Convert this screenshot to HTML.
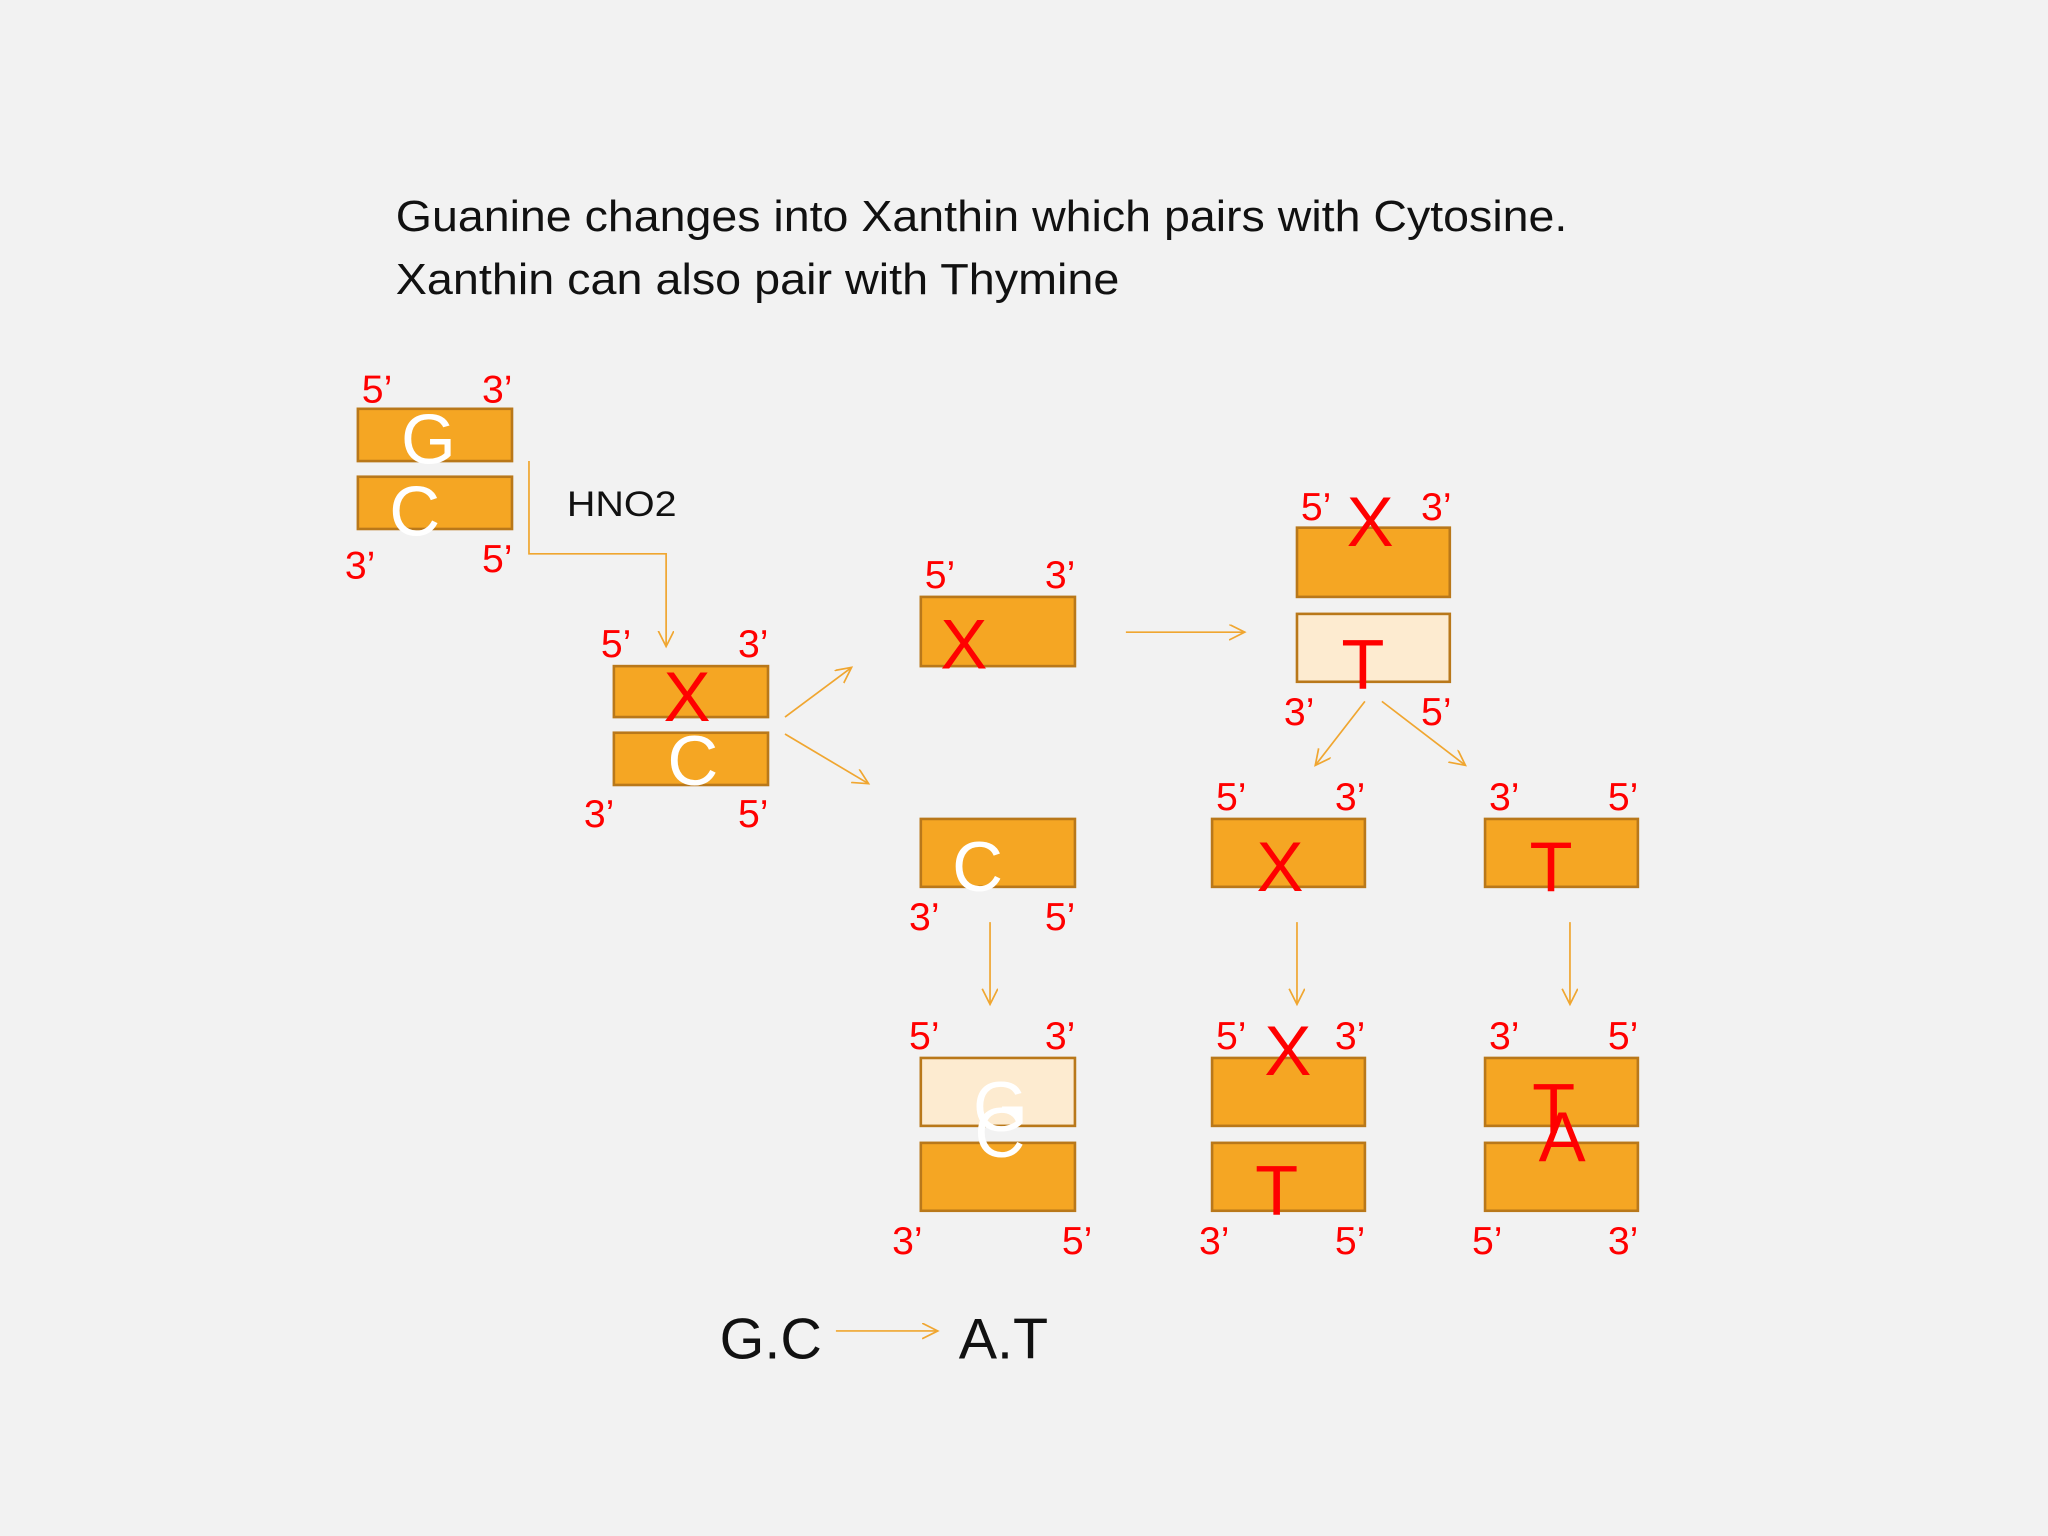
<!DOCTYPE html>
<html><head><meta charset="utf-8"><style>
html,body{margin:0;padding:0;background:#f2f2f2;}
svg{display:block;}
text{font-family:"Liberation Sans",sans-serif;}
.r{fill:#f00;font-size:30px;}
.b{fill:#f5a623;stroke:#b9781a;stroke-width:2;}
.l{fill:#fdebd0;stroke:#b9781a;stroke-width:2;}
.a{stroke:#f0a630;stroke-width:1.3;fill:none;}
.w{fill:#fff;font-size:54px;}
.x{fill:#f00;font-size:54px;}
</style></head><body>
<svg width="2048" height="1536" viewBox="0 0 1568 1176" xmlns="http://www.w3.org/2000/svg">
<defs><marker id="m" markerWidth="14" markerHeight="14" refX="12" refY="6" orient="auto" markerUnits="userSpaceOnUse"><path d="M0,0 L12,6 L0,12" fill="none" stroke="#f0a630" stroke-width="1.3"/></marker></defs>
<rect width="1568" height="1176" fill="#f2f2f2"/>
<text x="303" y="177" font-size="33" fill="#111" textLength="897" lengthAdjust="spacingAndGlyphs">Guanine changes into Xanthin which pairs with Cytosine.</text>
<text x="303" y="225" font-size="33" fill="#111" textLength="554" lengthAdjust="spacingAndGlyphs">Xanthin can also pair with Thymine</text>

<rect class="b" x="274" y="313" width="118" height="40"/>
<rect class="b" x="274" y="365" width="118" height="40"/>
<text class="w" x="307" y="355">G</text>
<text class="w" x="298" y="410">C</text>
<text class="r" x="277" y="308">5’</text><text class="r" x="369" y="308">3’</text>
<text class="r" x="264" y="443">3’</text><text class="r" x="369" y="438">5’</text>
<text x="434" y="395" font-size="27" fill="#111" textLength="84" lengthAdjust="spacingAndGlyphs">HNO2</text>
<path class="a" d="M405,353 V424 H510 V495" marker-end="url(#m)"/>

<rect class="b" x="470" y="510" width="118" height="39"/>
<rect class="b" x="470" y="561" width="118" height="40"/>
<text class="x" x="508" y="552">X</text>
<text class="w" x="511" y="601">C</text>
<text class="r" x="460" y="503">5’</text><text class="r" x="565" y="503">3’</text>
<text class="r" x="447" y="633">3’</text><text class="r" x="565" y="633">5’</text>
<line class="a" x1="601" y1="549" x2="652" y2="511" marker-end="url(#m)"/>
<line class="a" x1="601" y1="562" x2="665" y2="600" marker-end="url(#m)"/>

<rect class="b" x="705" y="457" width="118" height="53"/>
<text class="x" x="720" y="512">X</text>
<text class="r" x="708" y="450">5’</text><text class="r" x="800" y="450">3’</text>
<line class="a" x1="862" y1="484" x2="953" y2="484" marker-end="url(#m)"/>

<rect class="b" x="993" y="404" width="117" height="53"/>
<rect class="l" x="993" y="470" width="117" height="52"/>
<text class="x" x="1031" y="418">X</text>
<text class="x" x="1027" y="527">T</text>
<text class="r" x="996" y="398">5’</text><text class="r" x="1088" y="398">3’</text>
<text class="r" x="983" y="555">3’</text><text class="r" x="1088" y="555">5’</text>
<line class="a" x1="1045" y1="537" x2="1007" y2="586" marker-end="url(#m)"/>
<line class="a" x1="1058" y1="537" x2="1122" y2="586" marker-end="url(#m)"/>

<rect class="b" x="705" y="627" width="118" height="52"/>
<text class="w" x="729" y="682">C</text>
<text class="r" x="696" y="712">3’</text><text class="r" x="800" y="712">5’</text>
<line class="a" x1="758" y1="706" x2="758" y2="769" marker-end="url(#m)"/>

<rect class="b" x="928" y="627" width="117" height="52"/>
<text class="x" x="962" y="682">X</text>
<text class="r" x="931" y="620">5’</text><text class="r" x="1022" y="620">3’</text>
<line class="a" x1="993" y1="706" x2="993" y2="769" marker-end="url(#m)"/>

<rect class="b" x="1137" y="627" width="117" height="52"/>
<text class="x" x="1171" y="682">T</text>
<text class="r" x="1140" y="620">3’</text><text class="r" x="1231" y="620">5’</text>
<line class="a" x1="1202" y1="706" x2="1202" y2="769" marker-end="url(#m)"/>

<rect class="l" x="705" y="810" width="118" height="52"/>
<rect class="b" x="705" y="875" width="118" height="52"/>
<text class="w" x="745" y="866">G</text>
<text class="w" x="746" y="886">C</text>
<text class="r" x="696" y="803">5’</text><text class="r" x="800" y="803">3’</text>
<text class="r" x="683" y="960">3’</text><text class="r" x="813" y="960">5’</text>

<rect class="b" x="928" y="810" width="117" height="52"/>
<rect class="b" x="928" y="875" width="117" height="52"/>
<text class="x" x="968" y="823">X</text>
<text class="x" x="961" y="930">T</text>
<text class="r" x="931" y="803">5’</text><text class="r" x="1022" y="803">3’</text>
<text class="r" x="918" y="960">3’</text><text class="r" x="1022" y="960">5’</text>

<rect class="b" x="1137" y="810" width="117" height="52"/>
<rect class="b" x="1137" y="875" width="117" height="52"/>
<text class="x" x="1173" y="867">T</text>
<text class="x" x="1178" y="889">A</text>
<text class="r" x="1140" y="803">3’</text><text class="r" x="1231" y="803">5’</text>
<text class="r" x="1127" y="960">5’</text><text class="r" x="1231" y="960">3’</text>

<text x="551" y="1040" font-size="44" fill="#111">G.C</text>
<line class="a" x1="640" y1="1019" x2="718" y2="1019" marker-end="url(#m)"/>
<text x="734" y="1040" font-size="44" fill="#111">A.T</text>
</svg>
</body></html>
